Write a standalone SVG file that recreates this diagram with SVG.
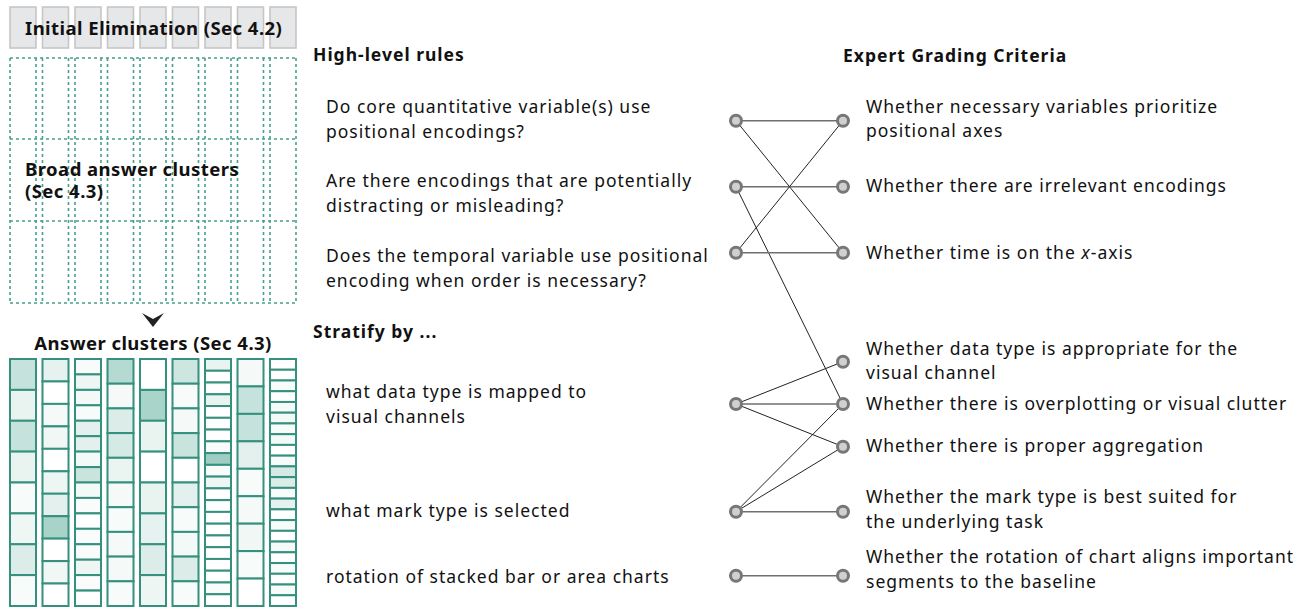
<svg xmlns="http://www.w3.org/2000/svg" width="1306" height="609" viewBox="0 0 1306 609">
  <style>
    text { font-family: "Noto Sans", "Open Sans", "Liberation Sans", sans-serif; fill: #111; }
    .lbl { font-size: 17.5px; letter-spacing: 1px; }
    .hd { font-size: 17.5px; font-weight: bold; letter-spacing: 1px; }
    .big { font-size: 18.5px; font-weight: bold; letter-spacing: 0.45px; }
    .gbox { fill: #e6e7e8; stroke: #c6c6c6; stroke-width: 1.6; }
    .dash { stroke: #47a08e; stroke-width: 1.6; stroke-dasharray: 3 3; fill: none; }
    .cell rect { stroke: #35907e; stroke-width: 2; }
    .node { fill: #d0d0d0; stroke: #777; stroke-width: 3; }
    .h { stroke: #6f6f6f; stroke-width: 1.6; }
    .d { stroke: #222; stroke-width: 1; }
  </style>

  <!-- Initial elimination strip -->
  <g id="initial-elimination">
    <rect class="gbox" x="10" y="7" width="26" height="41"/>
    <rect class="gbox" x="42.5" y="7" width="26" height="41"/>
    <rect class="gbox" x="75" y="7" width="26" height="41"/>
    <rect class="gbox" x="107.5" y="7" width="26" height="41"/>
    <rect class="gbox" x="140" y="7" width="26" height="41"/>
    <rect class="gbox" x="172.5" y="7" width="26" height="41"/>
    <rect class="gbox" x="205" y="7" width="26" height="41"/>
    <rect class="gbox" x="237.5" y="7" width="26" height="41"/>
    <rect class="gbox" x="270" y="7" width="26" height="41"/>
    <text class="big" x="25" y="35">Initial Elimination (Sec 4.2)</text>
  </g>

  <!-- Broad answer clusters: dashed grid -->
  <g id="broad-clusters">
    <path class="dash" d="M10,58H296M10,139H296M10,221H296M10,303H296"/>
    <path class="dash" d="M10,58V303M36,58V303M42.5,58V303M68.5,58V303M75,58V303M101,58V303M107.5,58V303M133.5,58V303M140,58V303M166,58V303M172.5,58V303M198.5,58V303M205,58V303M231,58V303M237.5,58V303M263.5,58V303M270,58V303M296,58V303"/>
    <text class="big" x="25" y="176">Broad answer clusters</text>
    <text class="big" x="25" y="198">(Sec 4.3)</text>
  </g>

  <path id="down-arrow" d="M142,313 L153,319 L164,313 L153,327 Z" fill="#222"/>

  <!-- Answer clusters: stacked cells -->
  <g id="answer-clusters">
    <text class="big" x="153" y="350" text-anchor="middle">Answer clusters (Sec 4.3)</text>
    <g class="cell">
      <rect x="10" y="359" width="26" height="30.9" fill="#c6e2dc"/>
      <rect x="10" y="389.9" width="26" height="30.9" fill="#e9f4f1"/>
      <rect x="10" y="420.75" width="26" height="30.9" fill="#c6e2dc"/>
      <rect x="10" y="451.6" width="26" height="30.9" fill="#e9f4f1"/>
      <rect x="10" y="482.5" width="26" height="30.9" fill="#f7fbfa"/>
      <rect x="10" y="513.4" width="26" height="30.9" fill="#eff7f5"/>
      <rect x="10" y="544.25" width="26" height="30.9" fill="#dcede9"/>
      <rect x="10" y="575.1" width="26" height="30.9" fill="#f7fbfa"/>
    </g>
    <g class="cell">
      <rect x="42.5" y="359" width="26" height="22.45" fill="#e6f2ef"/>
      <rect x="42.5" y="381.45" width="26" height="22.45" fill="#ffffff"/>
      <rect x="42.5" y="403.9" width="26" height="22.45" fill="#f5faf9"/>
      <rect x="42.5" y="426.4" width="26" height="22.45" fill="#f0f7f5"/>
      <rect x="42.5" y="448.8" width="26" height="22.45" fill="#ffffff"/>
      <rect x="42.5" y="471.3" width="26" height="22.45" fill="#eef6f4"/>
      <rect x="42.5" y="493.7" width="26" height="22.45" fill="#e3f0ed"/>
      <rect x="42.5" y="516.2" width="26" height="22.45" fill="#a7d3c9"/>
      <rect x="42.5" y="538.6" width="26" height="22.45" fill="#ffffff"/>
      <rect x="42.5" y="561.1" width="26" height="22.45" fill="#f0f7f5"/>
      <rect x="42.5" y="583.5" width="26" height="22.5" fill="#ffffff"/>
    </g>
    <g class="cell">
      <rect x="75" y="359" width="26" height="15.44" fill="#f7fbfa"/>
      <rect x="75" y="374.4" width="26" height="15.44" fill="#eef6f4"/>
      <rect x="75" y="389.9" width="26" height="15.44" fill="#f3f9f7"/>
      <rect x="75" y="405.3" width="26" height="15.44" fill="#f7fbfa"/>
      <rect x="75" y="420.75" width="26" height="15.44" fill="#e3f0ed"/>
      <rect x="75" y="436.2" width="26" height="15.44" fill="#e3f0ed"/>
      <rect x="75" y="451.6" width="26" height="15.44" fill="#f3f9f7"/>
      <rect x="75" y="467.1" width="26" height="15.44" fill="#c9e4dd"/>
      <rect x="75" y="482.5" width="26" height="15.44" fill="#f3f9f7"/>
      <rect x="75" y="497.9" width="26" height="15.44" fill="#fafcfc"/>
      <rect x="75" y="513.4" width="26" height="15.44" fill="#ffffff"/>
      <rect x="75" y="528.8" width="26" height="15.44" fill="#fafcfc"/>
      <rect x="75" y="544.25" width="26" height="15.44" fill="#fafcfc"/>
      <rect x="75" y="559.7" width="26" height="15.44" fill="#eef6f4"/>
      <rect x="75" y="575.1" width="26" height="15.44" fill="#fafcfc"/>
      <rect x="75" y="590.6" width="26" height="15.4" fill="#ffffff"/>
    </g>
    <g class="cell">
      <rect x="107.5" y="359" width="26" height="24.7" fill="#b4dad1"/>
      <rect x="107.5" y="383.7" width="26" height="24.7" fill="#f5faf9"/>
      <rect x="107.5" y="408.4" width="26" height="24.7" fill="#dcede9"/>
      <rect x="107.5" y="433.1" width="26" height="24.7" fill="#d5eae5"/>
      <rect x="107.5" y="457.8" width="26" height="24.7" fill="#eaf4f1"/>
      <rect x="107.5" y="482.5" width="26" height="24.7" fill="#f5faf9"/>
      <rect x="107.5" y="507.2" width="26" height="24.7" fill="#f7fbfa"/>
      <rect x="107.5" y="531.9" width="26" height="24.7" fill="#f5faf9"/>
      <rect x="107.5" y="556.6" width="26" height="24.7" fill="#f5faf9"/>
      <rect x="107.5" y="581.3" width="26" height="24.7" fill="#f7fbfa"/>
    </g>
    <g class="cell">
      <rect x="140" y="359" width="26" height="30.9" fill="#ffffff"/>
      <rect x="140" y="389.9" width="26" height="30.9" fill="#a9d4ca"/>
      <rect x="140" y="420.75" width="26" height="30.9" fill="#e9f4f1"/>
      <rect x="140" y="451.6" width="26" height="30.9" fill="#ffffff"/>
      <rect x="140" y="482.5" width="26" height="30.9" fill="#e9f4f1"/>
      <rect x="140" y="513.4" width="26" height="30.9" fill="#e6f2ef"/>
      <rect x="140" y="544.25" width="26" height="30.9" fill="#dcede9"/>
      <rect x="140" y="575.1" width="26" height="30.9" fill="#eef6f4"/>
    </g>
    <g class="cell">
      <rect x="172.5" y="359" width="26" height="24.7" fill="#cde6e0"/>
      <rect x="172.5" y="383.7" width="26" height="24.7" fill="#f7fbfa"/>
      <rect x="172.5" y="408.4" width="26" height="24.7" fill="#f5faf9"/>
      <rect x="172.5" y="433.1" width="26" height="24.7" fill="#c9e4dd"/>
      <rect x="172.5" y="457.8" width="26" height="24.7" fill="#ffffff"/>
      <rect x="172.5" y="482.5" width="26" height="24.7" fill="#e3f0ed"/>
      <rect x="172.5" y="507.2" width="26" height="24.7" fill="#f7fbfa"/>
      <rect x="172.5" y="531.9" width="26" height="24.7" fill="#f3f9f7"/>
      <rect x="172.5" y="556.6" width="26" height="24.7" fill="#dcede9"/>
      <rect x="172.5" y="581.3" width="26" height="24.7" fill="#f7fbfa"/>
    </g>
    <g class="cell">
      <rect x="205" y="359" width="26" height="11.76" fill="#e9f4f1"/>
      <rect x="205" y="370.76" width="26" height="11.76" fill="#ffffff"/>
      <rect x="205" y="382.52" width="26" height="11.76" fill="#ffffff"/>
      <rect x="205" y="394.29" width="26" height="11.76" fill="#e9f4f1"/>
      <rect x="205" y="406.05" width="26" height="11.76" fill="#ffffff"/>
      <rect x="205" y="417.81" width="26" height="11.76" fill="#ffffff"/>
      <rect x="205" y="429.57" width="26" height="11.76" fill="#ffffff"/>
      <rect x="205" y="441.33" width="26" height="11.76" fill="#fafcfc"/>
      <rect x="205" y="453.1" width="26" height="11.76" fill="#9fcdc3"/>
      <rect x="205" y="464.86" width="26" height="11.76" fill="#f7fbfa"/>
      <rect x="205" y="476.62" width="26" height="11.76" fill="#eef6f4"/>
      <rect x="205" y="488.38" width="26" height="11.76" fill="#ffffff"/>
      <rect x="205" y="500.14" width="26" height="11.76" fill="#ffffff"/>
      <rect x="205" y="511.9" width="26" height="11.76" fill="#ffffff"/>
      <rect x="205" y="523.67" width="26" height="11.76" fill="#ffffff"/>
      <rect x="205" y="535.43" width="26" height="11.76" fill="#ffffff"/>
      <rect x="205" y="547.19" width="26" height="11.76" fill="#ffffff"/>
      <rect x="205" y="558.95" width="26" height="11.76" fill="#ffffff"/>
      <rect x="205" y="570.71" width="26" height="11.76" fill="#ffffff"/>
      <rect x="205" y="582.48" width="26" height="11.76" fill="#fafcfc"/>
      <rect x="205" y="594.24" width="26" height="11.76" fill="#ffffff"/>
    </g>
    <g class="cell">
      <rect x="237.5" y="359" width="26" height="27.44" fill="#f5faf9"/>
      <rect x="237.5" y="386.44" width="26" height="27.44" fill="#c6e2dc"/>
      <rect x="237.5" y="413.89" width="26" height="27.44" fill="#c6e2dc"/>
      <rect x="237.5" y="441.33" width="26" height="27.44" fill="#e3f0ed"/>
      <rect x="237.5" y="468.78" width="26" height="27.44" fill="#f7fbfa"/>
      <rect x="237.5" y="496.22" width="26" height="27.44" fill="#f5faf9"/>
      <rect x="237.5" y="523.67" width="26" height="27.44" fill="#f0f7f5"/>
      <rect x="237.5" y="551.11" width="26" height="27.44" fill="#f7fbfa"/>
      <rect x="237.5" y="578.56" width="26" height="27.44" fill="#ffffff"/>
    </g>
    <g class="cell">
      <rect x="270" y="359" width="26" height="10.74" fill="#ffffff"/>
      <rect x="270" y="369.74" width="26" height="10.74" fill="#ffffff"/>
      <rect x="270" y="380.48" width="26" height="10.74" fill="#f7fbfa"/>
      <rect x="270" y="391.22" width="26" height="10.74" fill="#ffffff"/>
      <rect x="270" y="401.96" width="26" height="10.74" fill="#f5faf9"/>
      <rect x="270" y="412.7" width="26" height="10.74" fill="#f3f9f7"/>
      <rect x="270" y="423.43" width="26" height="10.74" fill="#f7fbfa"/>
      <rect x="270" y="434.17" width="26" height="10.74" fill="#f3f9f7"/>
      <rect x="270" y="444.91" width="26" height="10.74" fill="#ffffff"/>
      <rect x="270" y="455.65" width="26" height="10.74" fill="#f7fbfa"/>
      <rect x="270" y="466.39" width="26" height="10.74" fill="#d5eae5"/>
      <rect x="270" y="477.13" width="26" height="10.74" fill="#dcede9"/>
      <rect x="270" y="487.87" width="26" height="10.74" fill="#f7fbfa"/>
      <rect x="270" y="498.61" width="26" height="10.74" fill="#e6f2ef"/>
      <rect x="270" y="509.35" width="26" height="10.74" fill="#ffffff"/>
      <rect x="270" y="520.09" width="26" height="10.74" fill="#f7fbfa"/>
      <rect x="270" y="530.83" width="26" height="10.74" fill="#ffffff"/>
      <rect x="270" y="541.57" width="26" height="10.74" fill="#f5faf9"/>
      <rect x="270" y="552.3" width="26" height="10.74" fill="#ffffff"/>
      <rect x="270" y="563.04" width="26" height="10.74" fill="#f7fbfa"/>
      <rect x="270" y="573.78" width="26" height="10.74" fill="#ffffff"/>
      <rect x="270" y="584.52" width="26" height="10.74" fill="#f7fbfa"/>
      <rect x="270" y="595.26" width="26" height="10.74" fill="#ffffff"/>
    </g>
  </g>

  <!-- Column headings -->
  <text id="h-rules" class="hd" x="313" y="61">High-level rules</text>
  <text id="h-stratify" class="hd" x="313" y="338">Stratify by ...</text>
  <text id="h-criteria" class="hd" x="843" y="62">Expert Grading Criteria</text>

  <!-- Links between rules and criteria -->
  <g id="connectors">
    <line class="h" x1="736" y1="120.7" x2="843" y2="120.7"/>
    <line class="d" x1="736" y1="120.7" x2="843" y2="252.7"/>
    <line class="h" x1="736" y1="186.7" x2="843" y2="186.7"/>
    <line class="d" x1="736" y1="186.7" x2="843" y2="404"/>
    <line class="d" x1="736" y1="252.7" x2="843" y2="120.7"/>
    <line class="h" x1="736" y1="252.7" x2="843" y2="252.7"/>
    <line class="d" x1="736" y1="404" x2="843" y2="361.7"/>
    <line class="h" x1="736" y1="404" x2="843" y2="404"/>
    <line class="d" x1="736" y1="404" x2="843" y2="446.7"/>
    <line class="d" x1="736" y1="511.7" x2="843" y2="404"/>
    <line class="d" x1="736" y1="511.7" x2="843" y2="446.7"/>
    <line class="h" x1="736" y1="511.7" x2="843" y2="511.7"/>
    <line class="h" x1="736" y1="575.7" x2="843" y2="575.7"/>
  </g>

  <!-- Rules (left) -->
  <g id="rule-positional">
    <text class="lbl" x="326" y="113">Do core quantitative variable(s) use</text>
    <text class="lbl" x="326" y="138">positional encodings?</text>
    <circle class="node" cx="736" cy="120.7" r="5.5"/>
  </g>
  <g id="rule-distracting">
    <text class="lbl" x="326" y="187">Are there encodings that are potentially</text>
    <text class="lbl" x="326" y="212">distracting or misleading?</text>
    <circle class="node" cx="736" cy="186.7" r="5.5"/>
  </g>
  <g id="rule-temporal">
    <text class="lbl" x="326" y="262">Does the temporal variable use positional</text>
    <text class="lbl" x="326" y="287">encoding when order is necessary?</text>
    <circle class="node" cx="736" cy="252.7" r="5.5"/>
  </g>
  <g id="strat-datatype">
    <text class="lbl" x="326" y="398">what data type is mapped to</text>
    <text class="lbl" x="326" y="423">visual channels</text>
    <circle class="node" cx="736" cy="404" r="5.5"/>
  </g>
  <g id="strat-mark">
    <text class="lbl" x="326" y="517">what mark type is selected</text>
    <circle class="node" cx="736" cy="511.7" r="5.5"/>
  </g>
  <g id="strat-rotation">
    <text class="lbl" x="326" y="583">rotation of stacked bar or area charts</text>
    <circle class="node" cx="736" cy="575.7" r="5.5"/>
  </g>

  <!-- Criteria (right) -->
  <g id="crit-positional">
    <circle class="node" cx="843" cy="120.7" r="5.5"/>
    <text class="lbl" x="866" y="113">Whether necessary variables prioritize</text>
    <text class="lbl" x="866" y="137">positional axes</text>
  </g>
  <g id="crit-irrelevant">
    <circle class="node" cx="843" cy="186.7" r="5.5"/>
    <text class="lbl" x="866" y="192">Whether there are irrelevant encodings</text>
  </g>
  <g id="crit-time">
    <circle class="node" cx="843" cy="252.7" r="5.5"/>
    <text class="lbl" x="866" y="259">Whether time is on the <tspan font-style="italic">x</tspan>-axis</text>
  </g>
  <g id="crit-datatype">
    <circle class="node" cx="843" cy="361.7" r="5.5"/>
    <text class="lbl" x="866" y="355">Whether data type is appropriate for the</text>
    <text class="lbl" x="866" y="379">visual channel</text>
  </g>
  <g id="crit-overplotting">
    <circle class="node" cx="843" cy="404" r="5.5"/>
    <text class="lbl" x="866" y="410">Whether there is overplotting or visual clutter</text>
  </g>
  <g id="crit-aggregation">
    <circle class="node" cx="843" cy="446.7" r="5.5"/>
    <text class="lbl" x="866" y="452">Whether there is proper aggregation</text>
  </g>
  <g id="crit-mark">
    <circle class="node" cx="843" cy="511.7" r="5.5"/>
    <text class="lbl" x="866" y="503">Whether the mark type is best suited for</text>
    <text class="lbl" x="866" y="528">the underlying task</text>
  </g>
  <g id="crit-rotation">
    <circle class="node" cx="843" cy="575.7" r="5.5"/>
    <text class="lbl" x="866" y="563">Whether the rotation of chart aligns important</text>
    <text class="lbl" x="866" y="588">segments to the baseline</text>
  </g>
</svg>
